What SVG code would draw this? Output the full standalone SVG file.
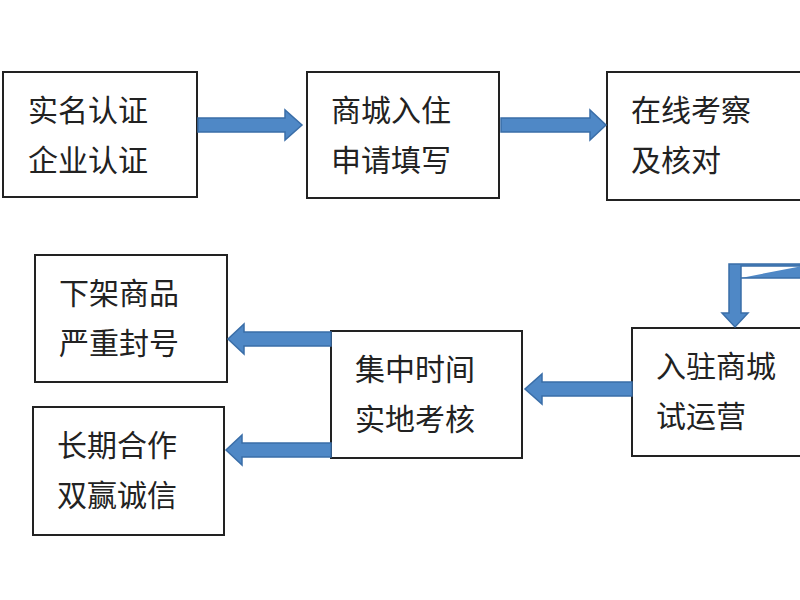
<svg xmlns="http://www.w3.org/2000/svg" width="800" height="600" viewBox="0 0 800 600">
<style>
.b{fill:#fff;stroke:#222;stroke-width:2}
.t{font-family:"Noto Sans CJK SC",sans-serif;font-size:30px;fill:#222}
.a{fill:#4f88c6;stroke:#3a6ea8;stroke-width:1.5}
</style>
<rect width="800" height="600" fill="#fff"/>
<g id="n1"><rect class="b" x="3" y="72" width="194" height="125"/><text class="t" x="28" y="121">实名认证</text><text class="t" x="28" y="171">企业认证</text></g>
<g id="n2"><rect class="b" x="307" y="72" width="192" height="126"/><text class="t" x="331" y="121">商城入住</text><text class="t" x="331" y="171">申请填写</text></g>
<g id="n3"><rect class="b" x="607" y="72" width="200" height="128"/><text class="t" x="631" y="121">在线考察</text><text class="t" x="631" y="171">及核对</text></g>
<g id="n4"><rect class="b" x="35" y="255" width="192" height="127"/><text class="t" x="59" y="304">下架商品</text><text class="t" x="59" y="354">严重封号</text></g>
<g id="n5"><rect class="b" x="331" y="331" width="191" height="127"/><text class="t" x="355" y="380">集中时间</text><text class="t" x="355" y="430">实地考核</text></g>
<g id="n6"><rect class="b" x="632" y="328" width="176" height="128"/><text class="t" x="656" y="377">入驻商城</text><text class="t" x="656" y="427">试运营</text></g>
<g id="n7"><rect class="b" x="33" y="407" width="191" height="128"/><text class="t" x="57" y="456">长期合作</text><text class="t" x="57" y="506">双赢诚信</text></g>
<g id="connectors">
<path class="a" d="M198,118 H285 V110 L302,125 L285,140 V132 H198 Z"/>
<path class="a" d="M501,118 H590 V110 L606,125 L590,140 V132 H501 Z"/>
<path class="a" d="M802,266 H741 V313 H748 L735,327 L722,313 H729 V266 V264 H802 V278 H741"/>
<path class="a" d="M632,382 H542 V374 L525,389 L542,404 V396 H632 Z"/>
<path class="a" d="M331,332 H244 V324 L228,339 L244,354 V346 H331 Z"/>
<path class="a" d="M331,443 H242 V435 L226,450 L242,465 V457 H331 Z"/>
</g>
</svg>
